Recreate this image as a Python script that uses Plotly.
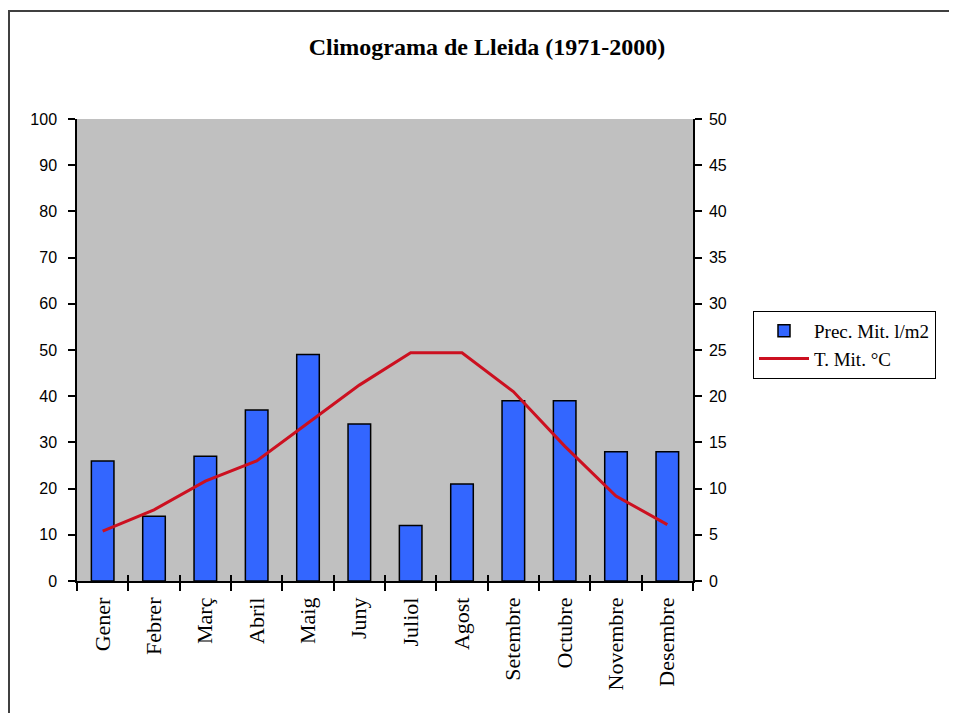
import plotly.graph_objects as go

months = ["Gener", "Febrer", "Març", "Abril", "Maig", "Juny", "Juliol",
          "Agost", "Setembre", "Octubre", "Novembre", "Desembre"]
precip = [26, 14, 27, 37, 49, 34, 12, 21, 39, 39, 28, 28]
temp = [5.4, 7.7, 10.8, 13.0, 17.1, 21.2, 24.7, 24.7, 20.5, 14.6, 9.2, 6.1]
left_ticks = list(range(0, 101, 10))
right_ticks = list(range(0, 51, 5))

# page body has an 8px margin in the browser: compensate
OFF = 8
W, H = 957, 713
L, R, T, B = 77 - OFF, 693 - OFF, 119 - OFF, 581 - OFF

serif = "Liberation Serif, Times New Roman, serif"
sans = "Liberation Sans, Arial, sans-serif"

fig = go.Figure()
fig.add_trace(go.Bar(
    x=months, y=precip, name="Prec. Mit. l/m2",
    marker=dict(color="#3366FF", line=dict(color="black", width=1.5)),
    width=0.44, xaxis="x", yaxis="y",
))
fig.add_trace(go.Scatter(
    x=months, y=temp, name="T. Mit. °C", mode="lines",
    line=dict(color="#CC1020", width=3), xaxis="x2", yaxis="y2",
))

pw = R - L
ph = B - T
xr = [-0.5, len(months) - 0.5]

fig.update_layout(
    width=W, height=H,
    margin=dict(l=L, r=W - R, t=T, b=H - B),
    paper_bgcolor="white",
    plot_bgcolor="#C0C0C0",
    showlegend=True,
    title=dict(text="<b>Climograma de Lleida (1971-2000)</b>",
               font=dict(family=serif, size=24, color="black"),
               x=(487 - OFF) / W, xanchor="center", y=1 - (47 - OFF) / H,
               yanchor="middle"),
    xaxis=dict(type="category", categoryorder="array", categoryarray=months,
               range=xr,
               tickson="boundaries", ticks="outside", ticklen=8, tickwidth=1.5,
               tickcolor="black", showline=True, linecolor="black", linewidth=1.5,
               showgrid=False, tickangle=-90, ticklabelstandoff=6,
               tickfont=dict(family=serif, size=22, color="black")),
    xaxis2=dict(type="category", categoryorder="array", categoryarray=months,
                range=xr,
                overlaying="x", anchor="y", side="bottom",
                tickson="boundaries", ticks="inside", ticklen=6, tickwidth=1.5,
                tickcolor="black", showticklabels=False, showgrid=False,
                showline=False),
    yaxis=dict(range=[0, 100], tickvals=left_ticks, ticks="outside", ticklen=7,
               tickwidth=1.5, tickcolor="black", showline=True, linecolor="black",
               linewidth=1.5, showgrid=False, zeroline=False,
               ticklabelstandoff=8,
               tickfont=dict(family=sans, size=16, color="black")),
    yaxis2=dict(range=[0, 50], tickvals=right_ticks, overlaying="y", side="right",
                anchor="x", ticks="outside", ticklen=7, tickwidth=1.5,
                tickcolor="black", showline=True, linecolor="black", linewidth=1.5,
                showgrid=False, zeroline=False, ticklabelstandoff=4,
                tickfont=dict(family=sans, size=16, color="black")),
    yaxis3=dict(range=[0, 100], tickvals=left_ticks, overlaying="y", side="left",
                anchor="x", ticks="inside", ticklen=5, tickwidth=1.5,
                tickcolor="black", showticklabels=False, showgrid=False,
                zeroline=False, showline=False),
    yaxis4=dict(range=[0, 50], tickvals=right_ticks, overlaying="y", side="right",
                anchor="x", ticks="inside", ticklen=5, tickwidth=1.5,
                tickcolor="black", showticklabels=False, showgrid=False,
                zeroline=False, showline=False),
    legend=dict(x=(753 - 77) / pw, xanchor="left", y=(581 - 311) / ph,
                yanchor="top",
                bgcolor="white", bordercolor="black", borderwidth=1,
                font=dict(family=serif, size=19, color="black"),
                tracegroupgap=0, itemwidth=50),
    shapes=[dict(type="rect", xref="paper", yref="paper",
                 x0=(9 - 77) / pw, x1=1.6, y0=-0.6, y1=(581 - 11) / ph,
                 line=dict(color="#404040", width=2), fillcolor="rgba(0,0,0,0)",
                 layer="below")],
)

fig.write_html("out.html")
